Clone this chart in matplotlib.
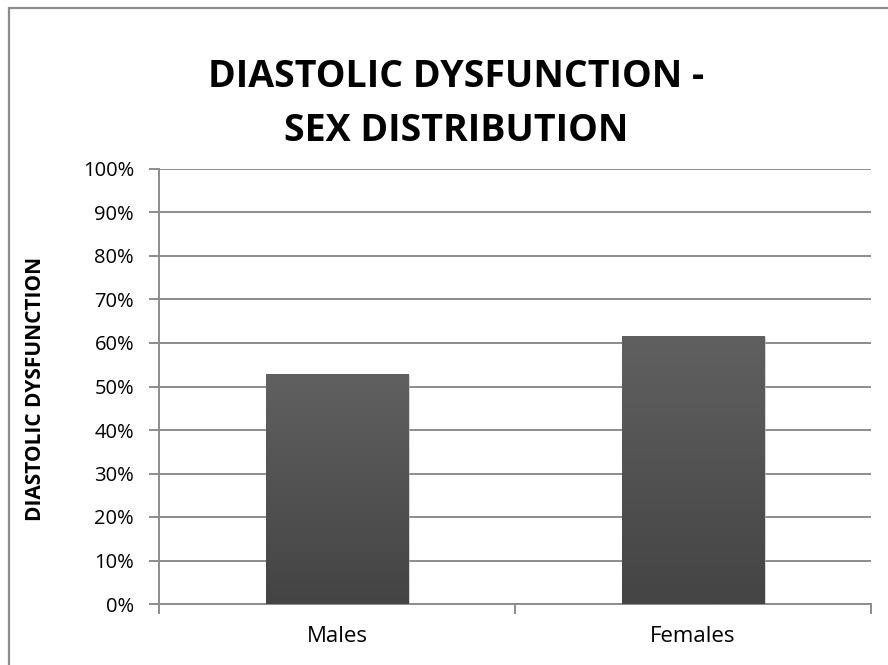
import numpy as np
import matplotlib
matplotlib.use("Agg")
import matplotlib.pyplot as plt
from matplotlib.patches import Rectangle
from matplotlib.ticker import FixedLocator

# data
categories = ["Males", "Females"]
values = [52.9, 61.6]
yticks = list(range(0, 101, 10))

plt.rcParams['font.family'] = ['Open Sans', 'DejaVu Sans']

fig = plt.figure(figsize=(8.88, 6.65), dpi=100)

# outer chart border (only top/left visible in the crop)
fig.patches.append(Rectangle((9 / 888, -0.1), 1.2, 1 - 8 / 665 + 0.1,
                             transform=fig.transFigure, fill=False,
                             edgecolor="#8c8c8c", linewidth=1.6))

ax = fig.add_axes([159 / 888, 1 - 604 / 665, 712 / 888, 435 / 665])

x = np.arange(len(categories))
bars = ax.bar(x, values, width=0.4, color="none", zorder=3)

# vertical gradient fill on each bar
grad = np.linspace(0, 1, 256).reshape(-1, 1)
cmap = matplotlib.colors.LinearSegmentedColormap.from_list("g", ["#444444", "#606060"])
for b in bars:
    x0, y0, w, h = b.get_x(), b.get_y(), b.get_width(), b.get_height()
    # soft shadow
    ax.add_patch(Rectangle((x0 + 0.004, y0 - 0.3), w, h, facecolor="#bbbbbb",
                           edgecolor="none", alpha=0.6, zorder=2))
    im = ax.imshow(grad, cmap=cmap, aspect="auto", origin="lower",
                   extent=(x0, x0 + w, y0, y0 + h), zorder=3)
    im.set_clip_path(b)

ax.set_xlim(-0.5, len(categories) - 0.5)
ax.set_ylim(0, 100)

ax.set_yticks(yticks)
ax.set_yticklabels([f"{t}%" for t in yticks], fontsize=14.5)
ax.yaxis.grid(True, color="#8c8c8c", linewidth=1.4, zorder=1)
ax.set_axisbelow(True)

ax.set_xticks(x)
ax.set_xticklabels(categories, fontsize=16)
ax.tick_params(axis="x", which="major", length=0, pad=16)
ax.xaxis.set_minor_locator(FixedLocator([-0.5, 0.5, 1.5]))
ax.tick_params(axis="x", which="minor", length=7, width=1.4, color="#8c8c8c", direction="out")
ax.tick_params(axis="y", length=7, width=1.4, color="#8c8c8c", direction="out", pad=11)

for s in ["top", "right"]:
    ax.spines[s].set_visible(False)
for s in ["left", "bottom"]:
    ax.spines[s].set_color("#8c8c8c")
    ax.spines[s].set_linewidth(1.4)

ax.set_ylabel("DIASTOLIC DYSFUNCTION", fontsize=15, fontweight="bold", va="center")
ax.yaxis.set_label_coords(-0.174, 0.494)

fig.text(456 / 888, 1 - 104 / 665, "DIASTOLIC DYSFUNCTION -\nSEX DISTRIBUTION",
         ha="center", va="center", fontsize=27, fontweight="bold", linespacing=1.58)

fig.savefig("out.png", dpi=100)
